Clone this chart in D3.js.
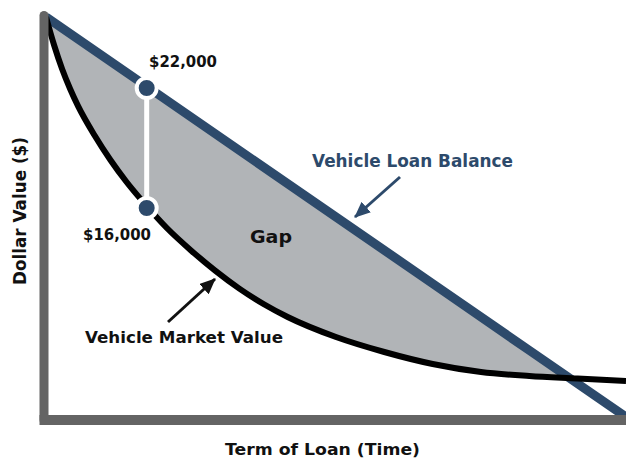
<!DOCTYPE html>
<html>
<head>
<meta charset="utf-8">
<script src="https://cdn.jsdelivr.net/npm/d3@7"></script>
<style>
    body { margin: 0; background: #fff; }
    svg text { font-family: 'DejaVu Sans', sans-serif; font-weight: bold; }
</style>
</head>
<body>
<div id="chart"></div>
<script>
// months into the loan and the car's market value
var months = [0, 1, 2, 3, 4, 6, 8, 10, 12, 15, 18, 21, 24, 27, 30, 36, 42, 48, 54, 60, 66, 72];
var marketValue = [25550, 24150, 22950, 21950, 21080, 19650, 18400, 17300, 16330, 15000, 13880,
    12870, 11970, 11200, 10550, 9550, 8800, 8200, 7800, 7600, 7475, 7350];

// loan balance, straight pay down
var loanMonths = [0, 12, 24, 36, 48, 60, 72];
var loanBalance = [25550, 22220, 18880, 15550, 12220, 8880, 5550];

// the two marked points
var dotMonth = 12.5;
var dotValues = [22000, 16000];
var dotLabels = ['$22,000', '$16,000'];

var width = 626, height = 458;
var blue = '#2d4a6b', gray = '#b1b4b7', axisGray = '#646464', ink = '#111';

var x = d3.scaleLinear().domain([0, 72]).range([46, 626]);
var y = d3.scaleLinear().domain([5500, 25600]).range([418, 16]);

var svg = d3.select('#chart').append('svg')
    .attr('width', width)
    .attr('height', height);

var defs = svg.append('defs');

var market = months.map(function(d, i){ return {t: d, v: marketValue[i]}; });
var loan = loanMonths.map(function(d, i){ return {t: d, v: loanBalance[i]}; });

// clip = everything above the market curve
defs.append('clipPath').attr('id', 'above_market')
    .append('path')
    .attr('d', d3.area()
        .x(function(d){ return x(d.t); })
        .y0(0)
        .y1(function(d){ return y(d.v); })
        .curve(d3.curveMonotoneX)(market));

function marker(id, color){
    defs.append('marker')
        .attr('id', id)
        .attr('viewBox', '0 0 16 14')
        .attr('refX', 15)
        .attr('refY', 7)
        .attr('markerUnits', 'userSpaceOnUse')
        .attr('markerWidth', 16)
        .attr('markerHeight', 14)
        .attr('orient', 'auto')
        .append('path')
        .attr('d', 'M0,0 L16,7 L0,14 Z')
        .attr('fill', color);
}
marker('arrow_blue', blue);
marker('arrow_black', ink);

// gap: below the loan line, above the market curve
svg.append('path')
    .attr('d', d3.area()
        .x(function(d){ return x(d.t); })
        .y0(function(d){ return y(d.v); })
        .y1(y.range()[0])(loan))
    .attr('fill', gray)
    .attr('clip-path', 'url(#above_market)');

svg.append('path')
    .attr('d', d3.line()
        .x(function(d){ return x(d.t); })
        .y(function(d){ return y(d.v); })(loan))
    .attr('fill', 'none')
    .attr('stroke', blue)
    .attr('stroke-width', 9);

svg.append('path')
    .attr('d', d3.line()
        .x(function(d){ return x(d.t); })
        .y(function(d){ return y(d.v); })
        .curve(d3.curveMonotoneX)(market))
    .attr('fill', 'none')
    .attr('stroke', '#000')
    .attr('stroke-width', 6);

// connector and dots
svg.append('line')
    .attr('x1', x(dotMonth)).attr('x2', x(dotMonth))
    .attr('y1', y(dotValues[0])).attr('y2', y(dotValues[1]))
    .attr('stroke', '#fff')
    .attr('stroke-width', 5);

svg.selectAll('.dot')
    .data(dotValues)
    .enter().append('circle')
    .attr('class', 'dot')
    .attr('cx', x(dotMonth))
    .attr('cy', function(d){ return y(d); })
    .attr('r', 10)
    .attr('fill', blue)
    .attr('stroke', '#fff')
    .attr('stroke-width', 4);

// axes
svg.append('line')
    .attr('x1', 44).attr('x2', 44)
    .attr('y1', 15.5).attr('y2', 420)
    .attr('stroke', axisGray)
    .attr('stroke-width', 9)
    .attr('stroke-linecap', 'round');
svg.append('line')
    .attr('x1', 39.5).attr('x2', width)
    .attr('y1', 420).attr('y2', 420)
    .attr('stroke', axisGray)
    .attr('stroke-width', 10);

// arrows
svg.append('line')
    .attr('x1', 400).attr('y1', 177).attr('x2', 355).attr('y2', 217)
    .attr('stroke', blue).attr('stroke-width', 3)
    .attr('marker-end', 'url(#arrow_blue)');
svg.append('line')
    .attr('x1', 168).attr('y1', 322).attr('x2', 215).attr('y2', 279)
    .attr('stroke', ink).attr('stroke-width', 3)
    .attr('marker-end', 'url(#arrow_black)');

// texts
function label(txt, lx, ly, size, len, color){
    return svg.append('text')
        .attr('x', lx).attr('y', ly)
        .attr('font-size', size)
        .attr('textLength', len)
        .attr('lengthAdjust', 'spacingAndGlyphs')
        .attr('fill', color || ink)
        .text(txt);
}
label(dotLabels[0], 149, 67, 15.5, 68);
label(dotLabels[1], 83, 240, 15.5, 68);
label('Vehicle Loan Balance', 312, 167, 17, 201, blue);
label('Gap', 250, 243, 18, 42);
label('Vehicle Market Value', 85, 343, 16.5, 198);
label('Term of Loan (Time)', 225, 455, 16.5, 195);

svg.append('text')
    .attr('transform', 'translate(26,211) rotate(-90)')
    .attr('text-anchor', 'middle')
    .attr('font-size', 17)
    .attr('textLength', 148)
    .attr('lengthAdjust', 'spacingAndGlyphs')
    .attr('fill', ink)
    .text('Dollar Value ($)');
</script>
</body>
</html>
